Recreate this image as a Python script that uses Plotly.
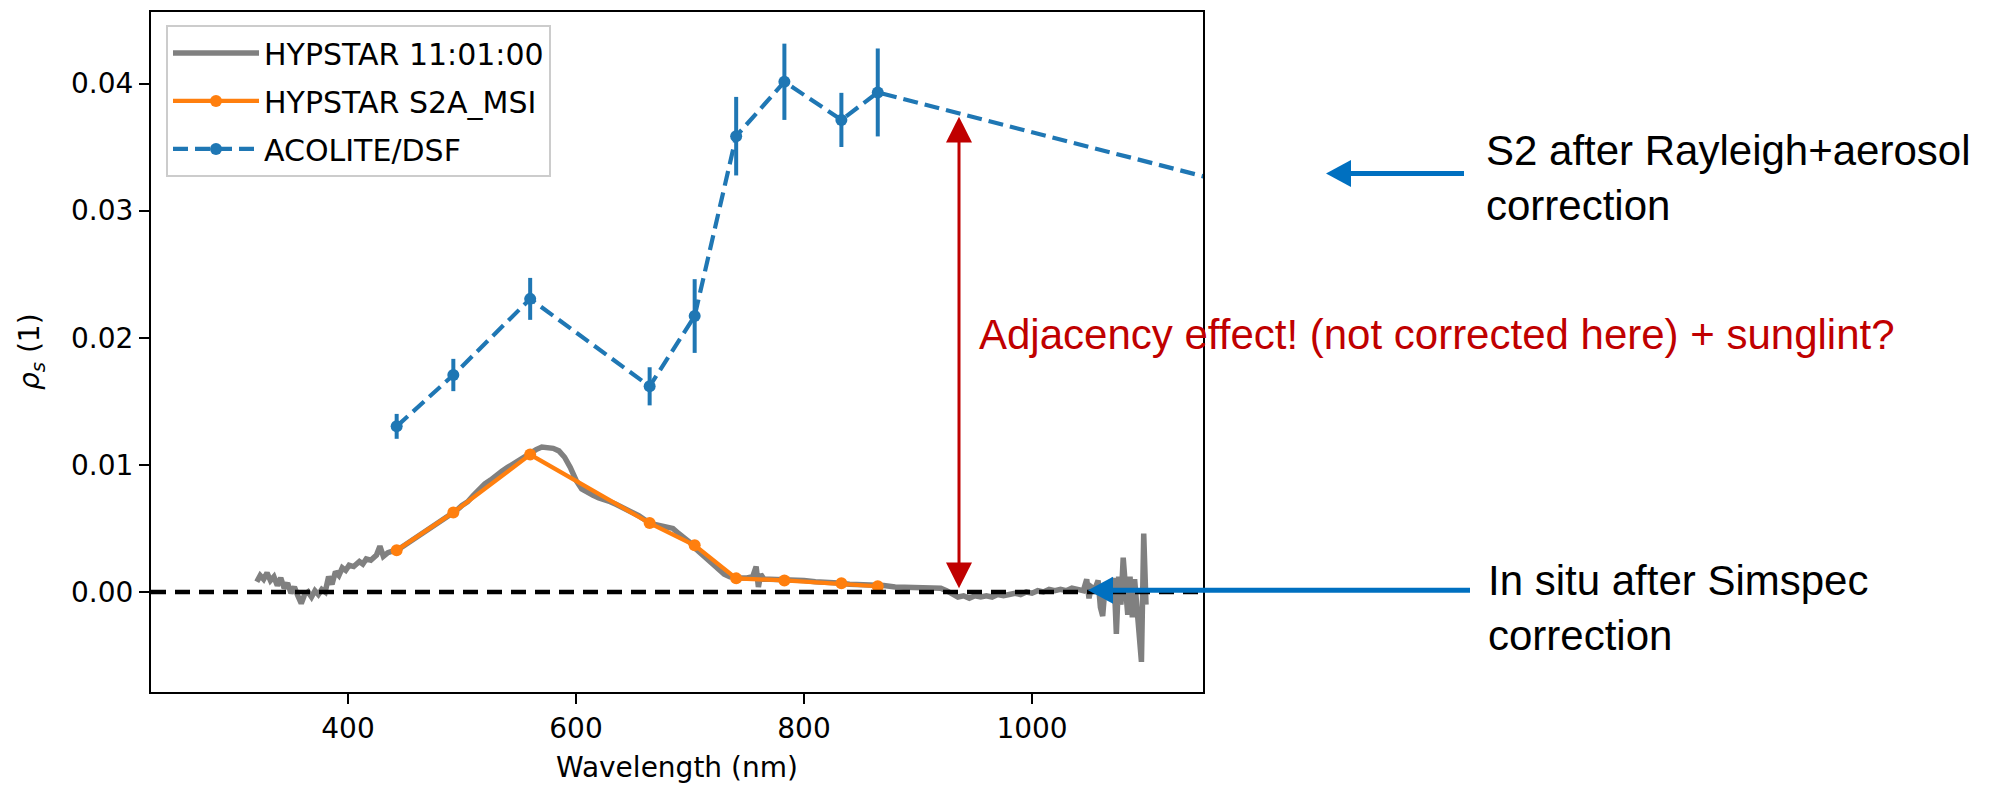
import plotly.graph_objects as go

# ---------------- data ----------------
hyp_wl = [320, 323, 326, 329, 332, 335, 338, 341, 344, 347, 350, 353, 356, 359, 362, 365, 368, 371, 374, 377,
          380, 383, 386, 389, 392, 395, 398, 401, 405, 410, 413, 416, 420, 425, 428, 431, 435, 440, 445, 450,
          455, 460, 465, 470, 475, 480, 485, 490, 495, 500, 505, 510, 515, 520, 525, 530, 535, 540, 545, 550,
          555, 560, 565, 570, 575, 580, 585, 590, 595, 600, 605, 610, 615, 620, 625, 630, 635, 640, 645, 650,
          655, 660, 665, 670, 675, 680, 685, 690, 695, 700, 705, 710, 715, 720, 725, 730, 735, 740, 745, 750,
          755, 758, 760, 762, 765, 770, 775, 780, 790, 800, 810, 820, 830, 840, 850, 860, 870, 880, 890, 900,
          910, 920, 925, 930, 935, 940, 945, 950, 955, 960, 965, 970, 975, 980, 985, 990, 995, 1000, 1005, 1010,
          1015, 1020, 1025, 1030, 1035, 1040, 1045, 1048, 1050, 1052, 1055, 1058, 1060, 1062, 1064, 1066, 1068,
          1070, 1072, 1074, 1076, 1078, 1080, 1082, 1084, 1086, 1088, 1090, 1092, 1094, 1096, 1098, 1100]
hyp_rho = [0.0008, 0.0013, 0.0010, 0.0015, 0.0009, 0.0012, 0.0005, 0.0011, 0.0003, 0.0007, -0.0001, 0.0004,
           -0.0003, -0.0009, -0.0002, 0.0000, -0.0004, 0.0001, -0.0002, 0.0002,
           0.0000, 0.0012, 0.0006, 0.0016, 0.0013, 0.0019, 0.0017, 0.0021, 0.0020, 0.0024, 0.0022, 0.0026,
           0.0025, 0.0029, 0.0036, 0.0028, 0.0031, 0.0032, 0.0034, 0.0037,
           0.0040, 0.0043, 0.0046, 0.0049, 0.0051, 0.0054, 0.0057, 0.0061, 0.0064, 0.0068, 0.0071, 0.0076,
           0.0081, 0.0085, 0.0088, 0.0092, 0.0095, 0.0098, 0.0101, 0.0104,
           0.0106, 0.0109, 0.0112, 0.0114, 0.0114, 0.0113, 0.0111, 0.0106, 0.0098, 0.0088, 0.0081, 0.0078,
           0.0076, 0.0074, 0.0073, 0.0071, 0.0069, 0.0067, 0.0065, 0.0063,
           0.0060, 0.0057, 0.0054, 0.0053, 0.0052, 0.0051, 0.0050, 0.0046, 0.0043, 0.0039, 0.0034, 0.0030,
           0.0026, 0.0022, 0.0018, 0.0014, 0.0012, 0.0011, 0.0011, 0.0011,
           0.0012, 0.0020, 0.0004, 0.0014, 0.0010, 0.0010, 0.0010, 0.0010, 0.0009, 0.0009, 0.0008, 0.0008,
           0.0007, 0.0006, 0.0006, 0.0005, 0.0005, 0.0004, 0.0004, 0.0004,
           0.0003, 0.0003, 0.0001, -0.0002, -0.0004, -0.0003, -0.0005, -0.0003, -0.0004, -0.0003, -0.0004,
           -0.0002, -0.0003, -0.0002, -0.0001, -0.0002, 0.0000, -0.0001, 0.0001, 0.0000,
           0.0002, 0.0001, 0.0002, 0.0001, 0.0003, 0.0002, 0.0001, 0.0010, -0.0005, 0.0004, 0.0002, 0.0009,
           -0.0012, -0.0019, 0.0003, -0.0006, 0.0008,
           -0.0002, 0.0011, -0.0033, 0.0012, -0.0010, 0.0027, 0.0004, -0.0018, 0.0012, -0.0020, 0.0010,
           -0.0015, -0.0030, -0.0055, 0.0046, -0.0010]

s2_bands = [442.7, 492.4, 559.8, 664.6, 704.1, 740.5, 782.8, 832.8, 864.7]
hyp_s2_rho = [0.00328, 0.00625, 0.01081, 0.00542, 0.00367, 0.00107, 0.00091, 0.00068, 0.00045]

acolite_wl = [442.7, 492.4, 559.8, 664.6, 704.1, 740.5, 782.8, 832.8, 864.7, 1613.7]
acolite_rho = [0.01303, 0.01707, 0.02306, 0.01618, 0.02171, 0.03586, 0.04014, 0.03714, 0.03930, 0.02200]
acolite_err = [0.00098, 0.00127, 0.00165, 0.00150, 0.00290, 0.00309, 0.00300, 0.00213, 0.00346, 0.0]

x_ticks = [400, 600, 800, 1000]
y_ticks = [0.00, 0.01, 0.02, 0.03, 0.04]
y_ticklabels = ["0.00", "0.01", "0.02", "0.03", "0.04"]

x_range = [227.2, 1150.0]
y_range = [-0.00787, 0.04563]

# ---------------- figure ----------------
W, H = 1990, 786
L, R, T, B = 151, 787, 10, 94
pw, ph = W - L - R, H - T - B

def px2paper_x(px):
    return (px - L) / pw

def px2paper_y(py):
    return (H - B - py) / ph

GREY = "#808080"
ORANGE = "#ff7f0e"
BLUE = "#1f77b4"
PPT_BLUE = "#0070C0"
PPT_RED = "#C00000"
TICKFONT = dict(family="DejaVu Sans", size=28, color="black")
ANNFONT = "Liberation Sans, Arial, sans-serif"

fig = go.Figure()
fig.add_trace(go.Scatter(x=hyp_wl, y=hyp_rho, mode="lines", name="HYPSTAR 11:01:00",
                         line=dict(color=GREY, width=5.5), legendgroup="a"))
fig.add_trace(go.Scatter(x=s2_bands, y=hyp_s2_rho, mode="lines+markers", name="HYPSTAR S2A_MSI",
                         line=dict(color=ORANGE, width=4.2), marker=dict(color=ORANGE, size=12),
                         legendgroup="b"))
fig.add_trace(go.Scatter(x=acolite_wl, y=acolite_rho, mode="lines+markers", name="ACOLITE/DSF",
                         line=dict(color=BLUE, width=4.2, dash="15px,7px"),
                         marker=dict(color=BLUE, size=12),
                         error_y=dict(type="data", array=acolite_err, visible=True, color=BLUE,
                                      thickness=4, width=0),
                         legendgroup="c"))

# zero reference line
fig.add_shape(type="line", xref="paper", yref="y", x0=0, x1=1, y0=0, y1=0,
              line=dict(color="black", width=4.5, dash="15px,9px"), layer="above")


# ---- overlay arrows (drawn in pixel positions converted to paper coords) ----
def add_segment(x0, y0, x1, y1, color, width):
    fig.add_shape(type="line", xref="paper", yref="paper",
                  x0=px2paper_x(x0), y0=px2paper_y(y0), x1=px2paper_x(x1), y1=px2paper_y(y1),
                  line=dict(color=color, width=width), layer="above")


def add_head(tip, base1, base2, color):
    pts = [tip, base1, base2]
    path = "M " + " L ".join(f"{px2paper_x(px):.5f},{px2paper_y(py):.5f}" for px, py in pts) + " Z"
    fig.add_shape(type="path", xref="paper", yref="paper", path=path,
                  fillcolor=color, line=dict(color=color, width=0), layer="above")


# red double arrow (vertical)
RX, RTOP, RBOT, RHEAD, RHW = 959, 115, 588, 26, 13
add_segment(RX, RTOP + RHEAD - 2, RX, RBOT - RHEAD + 2, PPT_RED, 3)
add_head((RX, RTOP), (RX - RHW, RTOP + RHEAD), (RX + RHW, RTOP + RHEAD), PPT_RED)
add_head((RX, RBOT), (RX - RHW, RBOT - RHEAD), (RX + RHW, RBOT - RHEAD), PPT_RED)

# blue arrows (pointing left)
BHEAD, BHW = 25, 13.5
for tipx, tailx, yy in [(1326, 1464, 172), (1088, 1470, 590)]:
    add_segment(tipx + BHEAD - 2, yy, tailx, yy, PPT_BLUE, 5)
    add_head((tipx, yy), (tipx + BHEAD, yy - BHW), (tipx + BHEAD, yy + BHW), PPT_BLUE)

axis_common = dict(showline=True, linecolor="black", linewidth=2, mirror=True, ticks="outside",
                   ticklen=10, tickwidth=2, tickcolor="black", showgrid=False, zeroline=False,
                   tickfont=TICKFONT)
fig.update_xaxes(range=x_range, tickvals=x_ticks, **axis_common)
fig.update_yaxes(range=y_range, tickvals=y_ticks, ticktext=y_ticklabels, **axis_common)

annotations = [
    dict(text="Wavelength (nm)", xref="paper", yref="paper", x=0.5, y=px2paper_y(768),
         xanchor="center", yanchor="middle", showarrow=False, font=TICKFONT),
    dict(text="<i>ρ</i><sub><i>s</i></sub> (1)", xref="paper", yref="paper", x=px2paper_x(31), y=0.5,
         xanchor="center", yanchor="middle", textangle=-90, showarrow=False, font=TICKFONT),
    dict(text="Adjacency effect! (not corrected here) + sunglint?", xref="paper", yref="paper",
         x=px2paper_x(977), y=px2paper_y(333), xanchor="left", yanchor="middle", showarrow=False,
         font=dict(family=ANNFONT, size=42, color=PPT_RED)),
    dict(text="S2 after Rayleigh+aerosol<br>correction", xref="paper", yref="paper",
         x=px2paper_x(1484), y=px2paper_y(176), xanchor="left", yanchor="middle", align="left",
         showarrow=False, font=dict(family=ANNFONT, size=42, color="black")),
    dict(text="In situ after Simspec<br>correction", xref="paper", yref="paper",
         x=px2paper_x(1486), y=px2paper_y(608), xanchor="left", yanchor="middle", align="left",
         showarrow=False, font=dict(family=ANNFONT, size=42, color="black")),
]

fig.update_layout(
    width=W, height=H,
    margin=dict(l=L, r=R, t=T, b=B),
    plot_bgcolor="white", paper_bgcolor="white",
    showlegend=True,
    legend=dict(x=px2paper_x(166), y=px2paper_y(23), xanchor="left", yanchor="top",
                bgcolor="rgba(255,255,255,0.8)", bordercolor="#cccccc", borderwidth=2,
                font=dict(family="DejaVu Sans", size=30, color="black"),
                itemwidth=86, traceorder="grouped", tracegroupgap=6),
    annotations=annotations,
)

fig.write_html("out.html")
